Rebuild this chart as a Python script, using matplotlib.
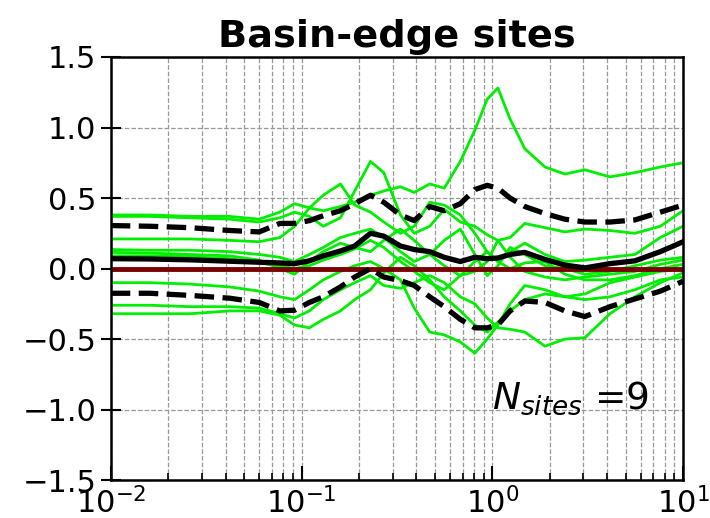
import numpy as np
import matplotlib
matplotlib.use("Agg")
import matplotlib.pyplot as plt

# frequencies (Hz) shared by every curve
freq = [0.01, 0.016, 0.026, 0.042, 0.060, 0.077, 0.092, 0.11, 0.13, 0.16,
        0.19, 0.23, 0.27, 0.33, 0.39, 0.47, 0.56, 0.68, 0.81, 0.94,
        1.07, 1.24, 1.48, 1.89, 2.4, 3.06, 4.14, 5.6, 7.6, 10.0]

# residuals of the 9 basin-edge sites
site1 = [0.38, 0.38, 0.37, 0.37, 0.35, 0.40, 0.46, 0.43, 0.41, 0.44,
         0.47, 0.52, 0.55, 0.58, 0.54, 0.60, 0.57, 0.76, 0.98, 1.20,
         1.28, 1.06, 0.85, 0.72, 0.67, 0.70, 0.65, 0.68, 0.72, 0.75]
site2 = [0.37, 0.37, 0.36, 0.35, 0.33, 0.36, 0.40, 0.37, 0.30, 0.36,
         0.55, 0.76, 0.68, 0.38, 0.25, 0.30, 0.42, 0.33, 0.30, 0.24,
         0.20, 0.22, 0.32, 0.29, 0.26, 0.28, 0.27, 0.25, 0.30, 0.41]
site3 = [0.21, 0.21, 0.21, 0.20, 0.19, 0.22, 0.30, 0.43, 0.52, 0.60,
         0.45, 0.40, 0.33, 0.25, 0.30, 0.47, 0.45, 0.38, 0.25, 0.12,
         0.05, 0.12, 0.18, 0.10, 0.05, 0.06, 0.08, 0.10, 0.22, 0.30]
site4 = [0.135, 0.13, 0.13, 0.12, 0.10, 0.08, 0.05, 0.10, 0.15, 0.22,
         0.25, 0.28, 0.22, 0.12, 0.05, 0.10, 0.20, 0.28, 0.10, -0.05,
         0.02, 0.15, 0.10, 0.02, 0.00, -0.04, -0.02, 0.02, 0.06, 0.08]
site5 = [0.115, 0.11, 0.10, 0.09, 0.06, 0.00, -0.04, 0.05, 0.12, 0.18,
         0.15, 0.12, 0.20, 0.28, 0.20, 0.10, 0.02, -0.05, -0.02, 0.05,
         0.20, 0.08, -0.02, -0.06, -0.08, -0.06, -0.04, -0.02, 0.03, 0.06]
site6 = [0.09, 0.09, 0.085, 0.07, 0.04, 0.02, 0.00, 0.02, 0.06, 0.10,
         0.14, 0.20, 0.15, 0.05, -0.02, -0.10, -0.15, -0.05, 0.05, 0.12,
         0.05, 0.00, 0.04, 0.05, -0.04, -0.08, -0.08, -0.05, 0.00, 0.03]
site7 = [-0.10, -0.10, -0.11, -0.13, -0.16, -0.20, -0.22, -0.15, -0.08, -0.02,
         0.02, 0.05, 0.00, -0.08, -0.28, -0.45, -0.47, -0.52, -0.60, -0.50,
         -0.40, -0.25, -0.12, -0.15, -0.20, -0.18, -0.10, -0.06, -0.02, 0.00]
site8 = [-0.26, -0.26, -0.27, -0.27, -0.28, -0.32, -0.35, -0.30, -0.22, -0.15,
         -0.10, -0.05, -0.12, -0.14, -0.10, -0.05, -0.10, -0.20, -0.25, -0.35,
         -0.42, -0.43, -0.45, -0.55, -0.50, -0.49, -0.32, -0.20, -0.10, -0.03]
site9 = [-0.32, -0.32, -0.32, -0.30, -0.30, -0.33, -0.40, -0.42, -0.36, -0.30,
         -0.22, -0.15, -0.03, 0.08, 0.02, -0.08, -0.20, -0.30, -0.40, -0.45,
         -0.38, -0.30, -0.22, -0.18, -0.20, -0.22, -0.20, -0.15, -0.08, -0.06]

# mean and mean +/- std
mean_res = [0.07, 0.068, 0.062, 0.052, 0.045, 0.04, 0.035, 0.055, 0.09, 0.125,
            0.16, 0.25, 0.23, 0.16, 0.135, 0.12, 0.08, 0.05, 0.08, 0.07,
            0.075, 0.10, 0.115, 0.065, 0.025, 0.005, 0.035, 0.055, 0.12, 0.19]
upper_res = [0.305, 0.30, 0.29, 0.27, 0.26, 0.32, 0.32, 0.34, 0.375, 0.41,
             0.46, 0.52, 0.47, 0.38, 0.34, 0.44, 0.41, 0.46, 0.56, 0.59,
             0.57, 0.50, 0.44, 0.39, 0.35, 0.33, 0.33, 0.345, 0.40, 0.45]
lower_res = [-0.175, -0.175, -0.19, -0.21, -0.24, -0.30, -0.295, -0.24, -0.20, -0.13,
             -0.06, 0.0, -0.06, -0.085, -0.12, -0.20, -0.27, -0.36, -0.42, -0.42,
             -0.40, -0.30, -0.23, -0.24, -0.30, -0.34, -0.27, -0.215, -0.16, -0.09]

n_sites = 9
sites = [site1, site2, site3, site4, site5, site6, site7, site8, site9]

fig = plt.figure(figsize=(7.1, 5.18), dpi=100)
ax = fig.add_axes([0.156, 0.073, 0.806, 0.817])

for s in sites:
    ax.semilogx(freq, s, color='#00ee00', lw=2)

ax.axhline(0, color='#7a0000', lw=3.5)
ax.semilogx(freq, mean_res, color='k', lw=3.8)
ax.semilogx(freq, upper_res, color='k', lw=3.8, ls='--')
ax.semilogx(freq, lower_res, color='k', lw=3.8, ls='--')

ax.set_xlim(1e-2, 1e1)
ax.set_ylim(-1.5, 1.5)
ax.set_yticks([-1.5, -1.0, -0.5, 0.0, 0.5, 1.0, 1.5])
ax.grid(True, which='both', axis='x', ls='--', color='#999999', lw=0.9)
ax.grid(True, which='major', axis='y', ls='--', color='#999999', lw=0.9)
ax.tick_params(axis='x', which='major', direction='in', length=10, width=1.5, labelsize=22, pad=5)
ax.tick_params(axis='x', which='minor', direction='in', length=5, width=1.2)
ax.tick_params(axis='y', direction='inout', length=14, width=1.5, labelsize=22)
for sp in ax.spines.values():
    sp.set_linewidth(1.8)

ax.text(1.0, -0.99, r'$N_{sites}$ =' + str(n_sites), fontsize=27, ha='left', va='baseline')
ax.set_title('Basin-edge sites', fontsize=27.5, fontweight='bold', pad=7)

fig.savefig('out.png', dpi=100)
